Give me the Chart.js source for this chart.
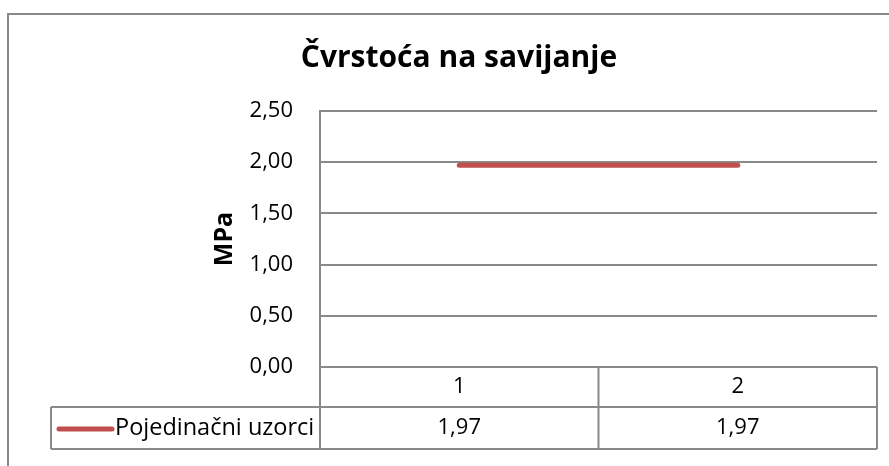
<!DOCTYPE html>
<html>
<head>
<meta charset="utf-8">
<script src="https://cdn.jsdelivr.net/npm/chart.js@4"></script>
<style>
  html, body { margin: 0; padding: 0; background: #ffffff; }
  canvas { display: block; }
</style>
</head>
<body>
<canvas id="c" width="889" height="466"></canvas>
<script>
// Chart content
const chartTitle = 'Čvrstoća na savijanje';
const axisTitle = 'MPa';
const categories = ['1', '2'];
const seriesName = 'Pojedinačni uzorci';
const seriesValues = [1.97, 1.97];
const yTickValues = [0, 0.5, 1, 1.5, 2, 2.5];

// Styling
const FONT = '"Open Sans", Lato, sans-serif';
const GRID = '#898989';
const RED = '#C0504D';
const TEXT = '#000000';
const fmt = v => v.toFixed(2).replace('.', ',');

// Outer frame, chart title and the data table under the plot
const tablePlugin = {
  id: 'dataTable',
  beforeDraw(chart) {
    const ctx = chart.ctx;
    ctx.save();
    ctx.fillStyle = '#ffffff';
    ctx.fillRect(0, 0, chart.width, chart.height);
    ctx.strokeStyle = GRID;
    ctx.lineWidth = 2;
    ctx.strokeRect(8, 14, 920, 480);
    ctx.restore();
  },
  afterDraw(chart) {
    const ctx = chart.ctx;
    const xs = chart.scales.x;
    const area = chart.chartArea;
    const colW = (area.right - area.left) / categories.length;
    const row1Top = area.bottom;
    const row2Top = area.bottom + 40;
    const row2Bot = area.bottom + 82;
    const tableLeft = 51;

    ctx.save();
    // title
    ctx.fillStyle = TEXT;
    ctx.font = 'bold 30px ' + FONT;
    ctx.textAlign = 'center';
    ctx.textBaseline = 'middle';
    ctx.fillText(chartTitle, 459, 58);

    // table grid
    ctx.strokeStyle = GRID;
    ctx.lineWidth = 2;
    ctx.beginPath();
    ctx.moveTo(area.left, row1Top); ctx.lineTo(area.right, row1Top);
    ctx.moveTo(tableLeft, row2Top); ctx.lineTo(area.right, row2Top);
    ctx.moveTo(tableLeft, row2Bot); ctx.lineTo(area.right, row2Bot);
    ctx.moveTo(tableLeft, row2Top); ctx.lineTo(tableLeft, row2Bot);
    for (let i = 0; i <= categories.length; i++) {
      const x = area.left + i * colW;
      ctx.moveTo(x, row1Top); ctx.lineTo(x, row2Bot);
    }
    ctx.stroke();

    // header row: category labels
    ctx.fillStyle = TEXT;
    ctx.font = '22px ' + FONT;
    ctx.textAlign = 'center';
    ctx.textBaseline = 'middle';
    categories.forEach((c, i) => {
      ctx.fillText(c, xs.getPixelForValue(i), (row1Top + row2Top) / 2);
    });

    // value row: legend key and values
    const midY = (row2Top + row2Bot) / 2;
    const ds = chart.data.datasets[0];
    ds.data.forEach((v, i) => {
      ctx.fillText(fmt(v), xs.getPixelForValue(i), midY);
    });
    ctx.strokeStyle = ds.borderColor;
    ctx.lineWidth = 5;
    ctx.lineCap = 'round';
    ctx.beginPath();
    ctx.moveTo(59, midY + 1); ctx.lineTo(112, midY + 1);
    ctx.stroke();
    ctx.font = '23.5px ' + FONT;
    ctx.textAlign = 'left';
    ctx.fillText(ds.label, 115, midY);
    ctx.restore();
  }
};

new Chart(document.getElementById('c'), {
  type: 'line',
  data: {
    labels: categories,
    datasets: [{
      label: seriesName,
      data: seriesValues,
      borderColor: RED,
      backgroundColor: RED,
      borderWidth: 5,
      borderCapStyle: 'round',
      pointRadius: 0,
      pointHoverRadius: 0,
      tension: 0
    }]
  },
  options: {
    responsive: false,
    animation: false,
    events: [],
    layout: { padding: { top: 111, left: 0, right: 12, bottom: 0 } },
    plugins: {
      legend: { display: false },
      title: { display: false },
      tooltip: { enabled: false }
    },
    scales: {
      x: {
        type: 'category',
        offset: true,
        grid: { display: false, offset: true },
        border: { display: false },
        ticks: { display: false },
        afterFit(scale) { scale.height = 99; }
      },
      y: {
        min: 0,
        max: 2.5,
        afterBuildTicks(scale) { scale.ticks = yTickValues.map(v => ({ value: v })); },
        ticks: {
          padding: 27,
          color: TEXT,
          font: { family: FONT, size: 22 },
          callback: v => fmt(v)
        },
        grid: { color: GRID, lineWidth: 2, drawTicks: false },
        border: { display: true, color: GRID, width: 2 },
        title: {
          display: true,
          text: axisTitle,
          color: TEXT,
          font: { family: FONT, size: 25, weight: 'bold' },
          padding: { top: 210, bottom: 0 }
        },
        afterFit(scale) { scale.width = 320; }
      }
    }
  },
  plugins: [tablePlugin]
});
</script>
</body>
</html>
